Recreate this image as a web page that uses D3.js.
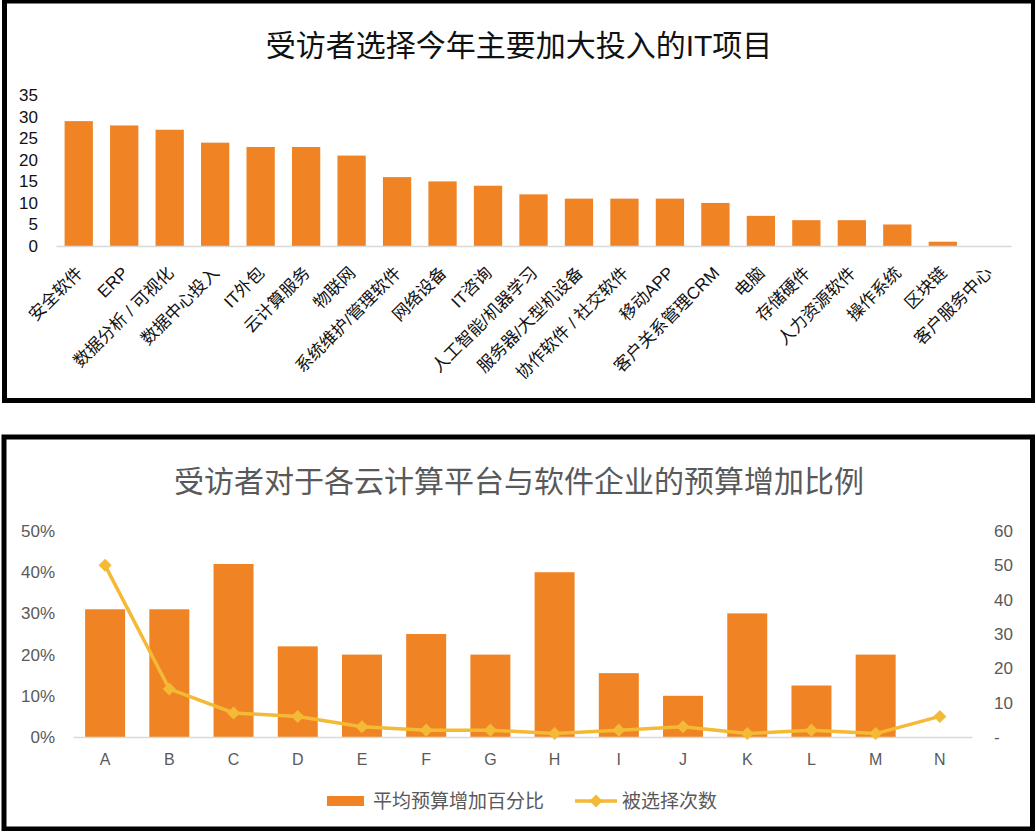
<!DOCTYPE html>
<html>
<head>
<meta charset="utf-8">
<script src="https://cdn.jsdelivr.net/npm/d3@7/dist/d3.min.js"></script>
<style>
  html, body { margin: 0; padding: 0; background: #fff; }
  svg { display: block; font-family: "Liberation Sans", "Noto Sans CJK SC", sans-serif; }
</style>
</head>
<body>
<svg id="chart" width="1035" height="831"></svg>
<script>
// ---------- Data: chart 1 ----------
const topTitle = "受访者选择今年主要加大投入的IT项目";
const topCategories = ["安全软件","ERP","数据分析 / 可视化","数据中心投入","IT外包","云计算服务","物联网","系统维护/管理软件","网络设备","IT咨询","人工智能/机器学习","服务器/大型机设备","协作软件 / 社交软件","移动APP","客户关系管理CRM","电脑","存储硬件","人力资源软件","操作系统","区块链","客户服务中心"];
const topValues = [29,28,27,24,23,23,21,16,15,14,12,11,11,11,10,7,6,6,5,1,0];
const topTicks = [0,5,10,15,20,25,30,35];

// ---------- Data: chart 2 ----------
const bottomTitle = "受访者对于各云计算平台与软件企业的预算增加比例";
const bottomCategories = ["A","B","C","D","E","F","G","H","I","J","K","L","M","N"];
const budgetPct = [0.31,0.31,0.42,0.22,0.20,0.25,0.20,0.40,0.155,0.10,0.30,0.125,0.20,0];
const selectedCount = [50,14,7,6,3,2,2,1,2,3,1,2,1,6];
const leftTicks = [0,0.1,0.2,0.3,0.4,0.5];
const rightTicks = [0,10,20,30,40,50,60];
const legendLabels = ["平均预算增加百分比","被选择次数"];

const BAR = "#F08424";
const LINE = "#F4B935";
const GREY = "#595959";
const AXIS = "#d9d9d9";

const svg = d3.select("#chart");

// Panel frames
svg.append("rect").attr("x",4.5).attr("y",1).attr("width",1029).attr("height",399.5)
  .attr("fill","none").attr("stroke","#000").attr("stroke-width",5);
svg.append("rect").attr("x",4).attr("y",437).attr("width",1028.5).attr("height",392)
  .attr("fill","none").attr("stroke","#000").attr("stroke-width",5);

// ================= Chart 1 =================
svg.append("text").attr("x",519).attr("y",45).attr("dy","0.35em")
  .attr("text-anchor","middle").attr("font-size",30).attr("fill","#111")
  .text(topTitle);

const x1 = d3.scaleBand().domain(topCategories).range([56,1011])
  .paddingInner(0.378).paddingOuter(0.189);
const y1 = d3.scaleLinear().domain([0,35]).range([246,95.3]);

svg.append("g").selectAll("rect").data(topValues).join("rect")
  .attr("x",(d,i)=>x1(topCategories[i]))
  .attr("width",x1.bandwidth())
  .attr("y",d=>y1(d))
  .attr("height",d=>y1(0)-y1(d))
  .attr("fill",BAR);

const ax1 = svg.append("g").attr("transform","translate(0,246)")
  .call(d3.axisBottom(x1).tickSize(0));
ax1.select(".domain").attr("stroke",AXIS).attr("stroke-width",1.5);
ax1.selectAll("text")
  .attr("x",0).attr("y",0).attr("dy",0)
  .attr("transform","translate(5,28) rotate(-45)")
  .attr("text-anchor","end").attr("font-size",17).attr("fill","#111")
  .attr("font-family","\"Liberation Sans\", \"Noto Sans CJK SC\", sans-serif");

const ay1 = svg.append("g").attr("transform","translate(38,0)")
  .call(d3.axisLeft(y1).tickValues(topTicks).tickSize(0).tickPadding(0));
ay1.select(".domain").remove();
ay1.selectAll("text").attr("font-size",17).attr("fill","#111")
  .attr("font-family","\"Liberation Sans\", sans-serif");

// ================= Chart 2 =================
svg.append("text").attr("x",519).attr("y",481).attr("dy","0.35em")
  .attr("text-anchor","middle").attr("font-size",30).attr("fill",GREY)
  .text(bottomTitle);

const x2 = d3.scaleBand().domain(bottomCategories).range([73,972])
  .paddingInner(0.377).paddingOuter(0.1885);
const y2 = d3.scaleLinear().domain([0,0.5]).range([737,531]);
const y2r = d3.scaleLinear().domain([0,60]).range([737,531]);

svg.append("g").selectAll("rect").data(budgetPct).join("rect")
  .attr("x",(d,i)=>x2(bottomCategories[i]))
  .attr("width",x2.bandwidth())
  .attr("y",d=>y2(d))
  .attr("height",d=>y2(0)-y2(d))
  .attr("fill",BAR);

const ax2 = svg.append("g").attr("transform","translate(0,737)")
  .call(d3.axisBottom(x2).tickSize(0).tickPadding(17));
ax2.select(".domain").attr("stroke",AXIS).attr("stroke-width",1.5);
ax2.selectAll("text").attr("font-size",16).attr("fill",GREY)
  .attr("font-family","\"Liberation Sans\", sans-serif");

const ay2 = svg.append("g").attr("transform","translate(55,0)")
  .call(d3.axisLeft(y2).tickValues(leftTicks).tickFormat(d3.format(".0%")).tickSize(0).tickPadding(0));
ay2.select(".domain").remove();
ay2.selectAll("text").attr("font-size",17).attr("fill",GREY)
  .attr("font-family","\"Liberation Sans\", sans-serif");

const ay2r = svg.append("g").attr("transform","translate(994,0)")
  .call(d3.axisRight(y2r).tickValues(rightTicks).tickFormat(d=>d===0?"-":d).tickSize(0).tickPadding(0));
ay2r.select(".domain").remove();
ay2r.selectAll("text").attr("font-size",17).attr("fill",GREY)
  .attr("font-family","\"Liberation Sans\", sans-serif");

const cx2 = (i)=>x2(bottomCategories[i]) + x2.bandwidth()/2;
const line = d3.line().x((d,i)=>cx2(i)).y(d=>y2r(d));
svg.append("path").datum(selectedCount).attr("d",line)
  .attr("fill","none").attr("stroke",LINE).attr("stroke-width",3.5)
  .attr("stroke-linejoin","round");

const diamond = d3.symbol().type(d3.symbolSquare).size(85);
svg.append("g").selectAll("path").data(selectedCount).join("path")
  .attr("d",diamond)
  .attr("transform",(d,i)=>`translate(${cx2(i)},${y2r(d)}) rotate(45)`)
  .attr("fill",LINE);

// Legend
const lg = svg.append("g");
lg.append("rect").attr("x",327).attr("y",796).attr("width",37).attr("height",10).attr("fill",BAR);
lg.append("text").attr("x",373).attr("y",801).attr("dy","0.35em")
  .attr("font-size",19).attr("fill",GREY).text(legendLabels[0]);
lg.append("line").attr("x1",575).attr("x2",617).attr("y1",801).attr("y2",801)
  .attr("stroke",LINE).attr("stroke-width",3.5);
lg.append("path").attr("d",diamond).attr("transform","translate(596,801) rotate(45)").attr("fill",LINE);
lg.append("text").attr("x",622).attr("y",801).attr("dy","0.35em")
  .attr("font-size",19).attr("fill",GREY).text(legendLabels[1]);
</script>
</body>
</html>
